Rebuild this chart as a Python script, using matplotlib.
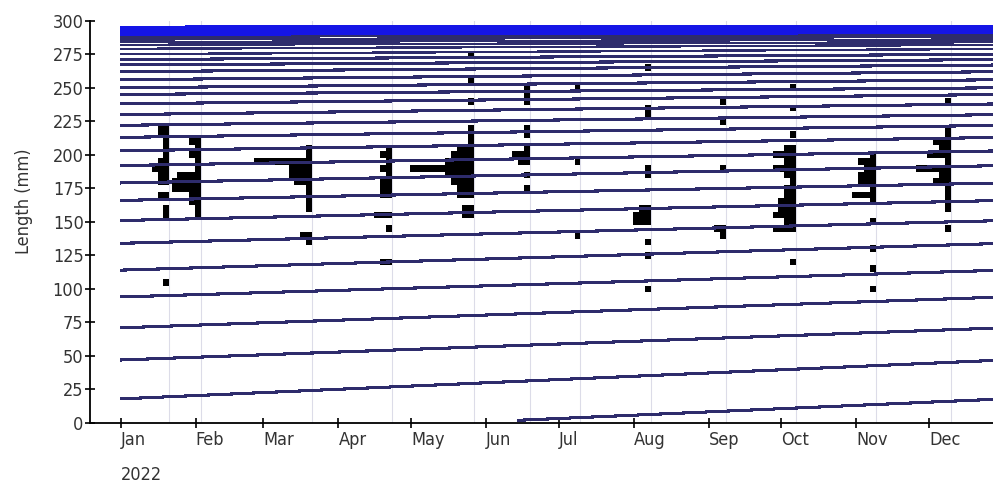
import matplotlib
matplotlib.use('Agg')
import matplotlib.pyplot as plt
import matplotlib.dates as mdates
from matplotlib import font_manager
import numpy as np
import pandas as pd

# Growth curves: length (mm) of each cohort line on 1 Jan; each line runs to the next value by year end
jan_len = [18, 47, 71, 94, 114, 134, 151, 166, 179, 192, 203, 213, 222, 230, 238, 245, 250,
           256, 262, 267, 271, 275, 279, 282, 284, 286, 288, 289.6, 290.9, 292, 292.9, 293.7,
           294.4, 295, 295.5, 295.9]
# new cohort recruited in June
recruit_date = '2022-06-14'
recruit_len = 2

# Length-frequency samples (bin mid-length in mm, count)
s_dates = ['2022-01-21', '2022-02-03', '2022-03-21', '2022-04-23', '2022-05-27', '2022-06-19',
           '2022-07-10', '2022-08-08', '2022-09-08', '2022-10-07', '2022-11-09', '2022-12-10']

jan_l = [220, 215, 210, 205, 200, 195, 190, 185, 180, 170, 160, 155, 105]
jan_n = [2, 2, 1, 1, 1, 2, 3, 2, 2, 2, 1, 1, 1]
feb_l = [210, 205, 200, 195, 190, 185, 180, 175, 170, 165, 160, 155]
feb_n = [2, 1, 2, 1, 1, 4, 5, 5, 2, 2, 1, 1]
mar_l = [205, 200, 195, 190, 185, 180, 175, 170, 165, 160, 140, 135]
mar_n = [1, 1, 10, 4, 4, 3, 1, 1, 1, 1, 2, 1]
apr_l = [205, 200, 195, 190, 185, 180, 175, 170, 155, 145, 120]
apr_n = [1, 2, 1, 2, 1, 2, 2, 2, 3, 1, 2]
may_l = [290, 275, 255, 240, 220, 215, 210, 205, 200, 195, 190, 185, 180, 175, 170, 160, 155]
may_n = [1, 1, 1, 1, 1, 1, 1, 3, 4, 5, 11, 5, 4, 3, 3, 2, 2]
jun_l = [250, 245, 240, 220, 215, 205, 200, 195, 185, 175]
jun_n = [1, 1, 1, 1, 1, 1, 3, 2, 1, 1]
jul_l = [250, 195, 140]
jul_n = [1, 1, 1]
aug_l = [265, 235, 230, 190, 185, 160, 155, 150, 135, 125, 100]
aug_n = [1, 1, 1, 1, 1, 2, 3, 3, 1, 1, 1]
sep_l = [240, 225, 190, 145, 140]
sep_n = [1, 1, 1, 2, 1]
oct_l = [250, 235, 215, 205, 200, 195, 190, 185, 180, 175, 170, 165, 160, 155, 150, 145, 120]
oct_n = [1, 1, 1, 2, 4, 2, 4, 2, 1, 2, 2, 3, 3, 4, 2, 4, 1]
nov_l = [200, 195, 190, 185, 180, 175, 170, 165, 150, 130, 115, 100]
nov_n = [1, 3, 2, 3, 3, 1, 4, 1, 1, 1, 1, 1]
dec_l = [240, 220, 215, 210, 205, 200, 195, 190, 185, 180, 175, 170, 165, 160, 145]
dec_n = [1, 1, 1, 3, 2, 4, 1, 6, 2, 3, 1, 1, 1, 1, 1]

samples = [(jan_l, jan_n), (feb_l, feb_n), (mar_l, mar_n), (apr_l, apr_n), (may_l, may_n),
           (jun_l, jun_n), (jul_l, jul_n), (aug_l, aug_n), (sep_l, sep_n), (oct_l, oct_n),
           (nov_l, nov_n), (dec_l, dec_n)]

months = pd.date_range('2022-01-01', '2022-12-01', freq='MS')

# fonts: a narrow sans if there is one
fl = font_manager.fontManager.ttflist
names = {f.name for f in fl}
if 'Liberation Sans Narrow' in names:
    plt.rcParams['font.family'] = ['Liberation Sans Narrow', 'DejaVu Sans']
elif any(f.name == 'DejaVu Sans' and f.stretch == 'condensed' for f in fl):
    plt.rcParams['font.family'] = ['DejaVu Sans']
    plt.rcParams['font.stretch'] = 'condensed'
else:
    plt.rcParams['font.family'] = ['Liberation Sans', 'DejaVu Sans']
plt.rcParams['font.size'] = 13

W, H = 993, 487
fig = plt.figure(figsize=(W / 100, H / 100), dpi=100)
ax = fig.add_axes([90 / W, 1 - 423 / H, (W - 90) / W, (423 - 20.7) / H])

x0 = mdates.date2num(pd.Timestamp('2022-01-01'))
x_end = x0 + 365
unit = 2.4  # days per fish

# sample date lines
for d in s_dates:
    ax.axvline(mdates.date2num(pd.Timestamp(d)), color='#dcdce8', lw=0.8, zorder=1)

# histograms drawn to the left of each sample date
for d, (ls, ns) in zip(s_dates, samples):
    xd = mdates.date2num(pd.Timestamp(d))
    w = np.array(ns) * unit
    ax.barh(ls, w, left=xd - w, height=5, color='black', linewidth=0,
            antialiased=False, zorder=2)

# growth curves
for i in range(len(jan_len) - 1):
    c = '#1515e6' if jan_len[i] >= 289 else '#2e2c6c'
    lw = 1.5 if jan_len[i] < 272 else 1.0
    ax.plot([x0, x_end], [jan_len[i], jan_len[i + 1]], color=c, lw=lw,
            antialiased=False, solid_capstyle='butt', zorder=3)
ax.plot([mdates.date2num(pd.Timestamp(recruit_date)), x_end], [recruit_len, jan_len[0]],
        color='#2e2c6c', lw=1.5, antialiased=False, solid_capstyle='butt', zorder=3)

ax.set_xlim(x0 - 12.7, x0 + 360.5)
ax.set_ylim(0, 300)
ax.set_yticks(range(0, 301, 25))
ax.set_xticks(mdates.date2num(months))
ax.set_xticklabels([m.strftime('%b') for m in months], ha='left')

for s in ['top', 'right']:
    ax.spines[s].set_visible(False)
for s in ['left', 'bottom']:
    ax.spines[s].set_linewidth(1.3)
ax.tick_params(direction='inout', length=7, width=1.2, colors='black', labelcolor='#333333')
ax.tick_params(axis='y', pad=1)
ax.tick_params(axis='x', pad=2)

ax.set_ylabel('Length (mm)', color='#333333')
ax.yaxis.set_label_coords(-0.063, 0.55)
fig.text(120.7 / W, 1 - 475 / H, '2022', ha='left', va='center', color='#333333')

fig.savefig('out.png', dpi=100)
